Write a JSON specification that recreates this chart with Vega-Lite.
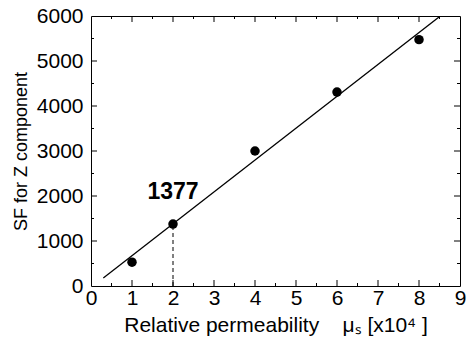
{
  "$schema": "https://vega.github.io/schema/vega-lite/v6.json",
  "width": 369,
  "height": 270,
  "autosize": "none",
  "padding": {"left": 91, "top": 16, "right": 7, "bottom": 62},
  "background": "white",
  "config": {
    "view": {"stroke": "black", "strokeWidth": 1},
    "font": "Liberation Sans",
    "axis": {
      "domain": false,
      "ticks": false,
      "labelColor": "black",
      "titleColor": "black",
      "grid": false,
      "labelFont": "Liberation Sans",
      "titleFont": "Liberation Sans",
      "labelFontSize": 21,
      "titleFontSize": 18,
      "titleFontWeight": "normal"
    }
  },
  "datasets": {
    "pts": [
      {"mu": 1, "sf": 530},
      {"mu": 2, "sf": 1377},
      {"mu": 4, "sf": 3000},
      {"mu": 6, "sf": 4310},
      {"mu": 8, "sf": 5475}
    ],
    "fit": [
      {"mu": 0.3, "sf": 180},
      {"mu": 8.52, "sf": 6000}
    ],
    "drop": [{"mu": 2, "sf": 0, "sf2": 1377}],
    "lab": [{"mu": 2, "sf": 2080, "t": "1377"}],
    "xmaj": [{"v": 1}, {"v": 2}, {"v": 3}, {"v": 4}, {"v": 5}, {"v": 6}, {"v": 7}, {"v": 8}],
    "xmin": [{"v": 0.5}, {"v": 1.5}, {"v": 2.5}, {"v": 3.5}, {"v": 4.5}, {"v": 5.5}, {"v": 6.5}, {"v": 7.5}, {"v": 8.5}],
    "ymaj": [{"v": 1000}, {"v": 2000}, {"v": 3000}, {"v": 4000}, {"v": 5000}],
    "ymin": [{"v": 500}, {"v": 1500}, {"v": 2500}, {"v": 3500}, {"v": 4500}, {"v": 5500}]
  },
  "layer": [
    {
      "data": {"name": "pts"},
      "mark": {"type": "point", "filled": true, "color": "black", "opacity": 1, "size": 90},
      "encoding": {
        "x": {
          "field": "mu", "type": "quantitative",
          "scale": {"domain": [0, 9], "nice": false},
          "axis": {
            "title": "Relative permeability\u00a0\u00a0\u00a0\u00a0μₛ [x10⁴ ]",
            "titleFontSize": 21,
            "titlePadding": 6,
            "values": [0, 1, 2, 3, 4, 5, 6, 7, 8, 9],
            "format": "d",
            "labelPadding": 1,
            "labelFlush": false,
            "labelOverlap": false
          }
        },
        "y": {
          "field": "sf", "type": "quantitative",
          "scale": {"domain": [0, 6000], "nice": false},
          "axis": {
            "title": "SF for Z component",
            "titlePadding": 6,
            "values": [0, 1000, 2000, 3000, 4000, 5000, 6000],
            "format": "d",
            "labelPadding": 8,
            "labelFlush": false,
            "labelOverlap": false
          }
        }
      }
    },
    {
      "data": {"name": "fit"},
      "mark": {"type": "line", "color": "black", "strokeWidth": 1.3, "clip": true},
      "encoding": {
        "x": {"field": "mu", "type": "quantitative", "axis": null},
        "y": {"field": "sf", "type": "quantitative", "axis": null}
      }
    },
    {
      "data": {"name": "drop"},
      "mark": {"type": "rule", "color": "black", "strokeWidth": 1, "strokeDash": [4, 3]},
      "encoding": {
        "x": {"field": "mu", "type": "quantitative", "axis": null},
        "y": {"field": "sf", "type": "quantitative", "axis": null},
        "y2": {"field": "sf2"}
      }
    },
    {
      "data": {"name": "lab"},
      "mark": {"type": "text", "fontSize": 23, "fontWeight": "bold", "color": "black", "font": "Liberation Sans"},
      "encoding": {
        "x": {"field": "mu", "type": "quantitative", "axis": null},
        "y": {"field": "sf", "type": "quantitative", "axis": null},
        "text": {"field": "t"}
      }
    },
    {
      "data": {"name": "xmaj"},
      "mark": {"type": "tick", "orient": "vertical", "size": 12, "thickness": 1, "color": "black", "opacity": 1, "clip": true},
      "encoding": {
        "x": {"field": "v", "type": "quantitative", "axis": null},
        "y": {"datum": 0, "type": "quantitative", "axis": null}
      }
    },
    {
      "data": {"name": "xmaj"},
      "mark": {"type": "tick", "orient": "vertical", "size": 12, "thickness": 1, "color": "black", "opacity": 1, "clip": true},
      "encoding": {
        "x": {"field": "v", "type": "quantitative", "axis": null},
        "y": {"datum": 6000, "type": "quantitative", "axis": null}
      }
    },
    {
      "data": {"name": "xmin"},
      "mark": {"type": "tick", "orient": "vertical", "size": 6, "thickness": 1, "color": "black", "opacity": 1, "clip": true},
      "encoding": {
        "x": {"field": "v", "type": "quantitative", "axis": null},
        "y": {"datum": 0, "type": "quantitative", "axis": null}
      }
    },
    {
      "data": {"name": "xmin"},
      "mark": {"type": "tick", "orient": "vertical", "size": 6, "thickness": 1, "color": "black", "opacity": 1, "clip": true},
      "encoding": {
        "x": {"field": "v", "type": "quantitative", "axis": null},
        "y": {"datum": 6000, "type": "quantitative", "axis": null}
      }
    },
    {
      "data": {"name": "ymaj"},
      "mark": {"type": "tick", "orient": "horizontal", "size": 12, "thickness": 1, "color": "black", "opacity": 1, "clip": true},
      "encoding": {
        "y": {"field": "v", "type": "quantitative", "axis": null},
        "x": {"datum": 0, "type": "quantitative", "axis": null}
      }
    },
    {
      "data": {"name": "ymaj"},
      "mark": {"type": "tick", "orient": "horizontal", "size": 12, "thickness": 1, "color": "black", "opacity": 1, "clip": true},
      "encoding": {
        "y": {"field": "v", "type": "quantitative", "axis": null},
        "x": {"datum": 9, "type": "quantitative", "axis": null}
      }
    },
    {
      "data": {"name": "ymin"},
      "mark": {"type": "tick", "orient": "horizontal", "size": 6, "thickness": 1, "color": "black", "opacity": 1, "clip": true},
      "encoding": {
        "y": {"field": "v", "type": "quantitative", "axis": null},
        "x": {"datum": 0, "type": "quantitative", "axis": null}
      }
    },
    {
      "data": {"name": "ymin"},
      "mark": {"type": "tick", "orient": "horizontal", "size": 6, "thickness": 1, "color": "black", "opacity": 1, "clip": true},
      "encoding": {
        "y": {"field": "v", "type": "quantitative", "axis": null},
        "x": {"datum": 9, "type": "quantitative", "axis": null}
      }
    }
  ],
  "resolve": {"axis": {"x": "independent", "y": "independent"}}
}
